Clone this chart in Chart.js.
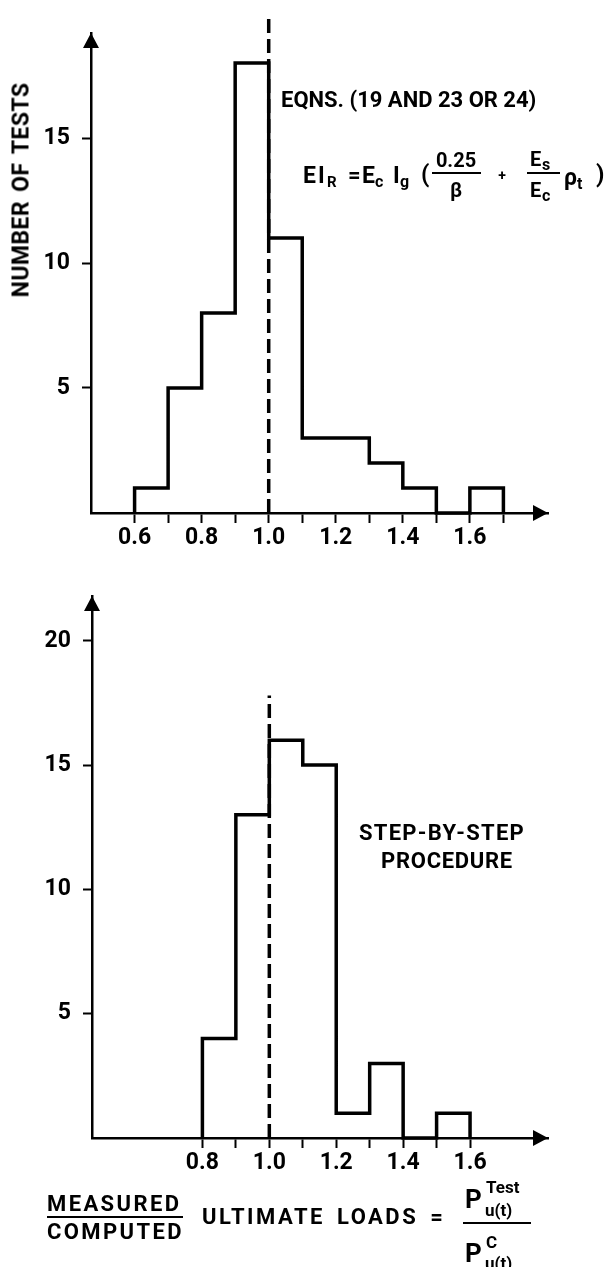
<!DOCTYPE html>
<html>
<head>
<meta charset="utf-8">
<script src="https://cdn.jsdelivr.net/npm/chart.js@4.4.0/dist/chart.umd.min.js"></script>
<style>
  body { margin:0; background:#fff; width:610px; height:1267px; position:relative; overflow:hidden;
         font-family:Roboto,"DejaVu Sans",sans-serif; font-weight:bold; color:#000; }
  canvas { position:absolute; left:0; }
  .t { position:absolute; white-space:nowrap; line-height:1; }
  .bar { position:absolute; height:2px; background:#000; }
</style>
</head>
<body>
<canvas id="topChart" width="610" height="560" style="top:0"></canvas>
<canvas id="botChart" width="610" height="707" style="top:560px"></canvas>
<div id="labels"></div>
<script>
// histogram bins (ratio measured / computed) and number of tests per bin
const edgesTop  = [0.6, 0.7, 0.8, 0.9, 1.0, 1.1, 1.2, 1.3, 1.4, 1.5, 1.6, 1.7];
const countsTop = [1, 5, 8, 18, 11, 3, 3, 2, 1, 0, 1];
const edgesBot  = [0.8, 0.9, 1.0, 1.1, 1.2, 1.3, 1.4, 1.5, 1.6];
const countsBot = [4, 13, 16, 15, 1, 3, 0, 1];

const xTicksTop  = [0.6, 0.7, 0.8, 0.9, 1.0, 1.1, 1.2, 1.3, 1.4, 1.5, 1.6, 1.7];
const xLabelsTop = [0.6, 0.8, 1.0, 1.2, 1.4, 1.6];
const xTicksBot  = [0.8, 0.9, 1.0, 1.1, 1.2, 1.3, 1.4, 1.5, 1.6];
const xLabelsBot = [0.8, 1.0, 1.2, 1.4, 1.6];
const yTicksTop  = [5, 10, 15];
const yTicksBot  = [5, 10, 15, 20];

const refX = 1.0;          // dashed line at ratio 1.0
const refTopTop = 19.9;    // how high the dashed line goes
const refTopBot = 17.8;

const FONT = 'Roboto, "DejaVu Sans", sans-serif';

function stepPoints(edges, counts) {
  const pts = [{x: edges[0], y: 0}];
  counts.forEach((c, i) => pts.push({x: edges[i], y: c}));
  pts.push({x: edges[edges.length - 1], y: 0});
  return pts;
}

// arrow heads on the ends of both axes
const arrows = {
  id: 'arrows',
  afterDraw(chart) {
    const {ctx, chartArea: a} = chart;
    ctx.save();
    ctx.fillStyle = '#000';
    ctx.beginPath();
    ctx.moveTo(a.left, a.top);
    ctx.lineTo(a.left - 8, a.top + 15);
    ctx.lineTo(a.left + 8, a.top + 15);
    ctx.closePath();
    ctx.fill();
    ctx.beginPath();
    ctx.moveTo(a.right, a.bottom);
    ctx.lineTo(a.right - 15, a.bottom - 8);
    ctx.lineTo(a.right - 15, a.bottom + 8);
    ctx.closePath();
    ctx.fill();
    ctx.restore();
  }
};

function makeChart(id, edges, counts, xTicks, xLabels, yTicks, yMax, refTop, opt) {
  return new Chart(document.getElementById(id), {
    type: 'line',
    data: {
      datasets: [
        { data: stepPoints(edges, counts), stepped: true, borderColor: '#000', borderWidth: 3.5,
          pointRadius: 0, fill: false, clip: false },
        { data: [{x: refX, y: 0}, {x: refX, y: refTop}], borderColor: '#000', borderWidth: 3.5,
          borderDash: [14, 6], pointRadius: 0, fill: false, clip: false }
      ]
    },
    options: {
      responsive: false, animation: false, events: [],
      layout: { padding: { left: 0, right: 62, top: opt.top, bottom: 0 } },
      plugins: { legend: { display: false }, tooltip: { enabled: false } },
      scales: {
        x: {
          type: 'linear', min: 0.47, max: 1.833,
          afterFit: s => { s.height = opt.xh; },
          afterBuildTicks: s => { s.ticks = xTicks.map(v => ({ value: v })); },
          ticks: { callback: v => xLabels.includes(v) ? v.toFixed(1) : '', autoSkip: false, maxRotation: 0,
                   color: '#000', padding: 1, font: { family: FONT, size: 23, weight: 'bold' } },
          grid: { drawOnChartArea: false, tickLength: 10, tickWidth: 2, tickColor: '#000' },
          border: { color: '#000', width: 2.5 }
        },
        y: {
          min: 0, max: yMax,
          afterFit: s => { s.width = opt.yw; },
          afterBuildTicks: s => { s.ticks = yTicks.map(v => ({ value: v })); },
          ticks: { color: '#000', padding: 12, font: { family: FONT, size: 23, weight: 'bold' } },
          grid: { drawOnChartArea: false, tickLength: 9, tickWidth: 2, tickColor: '#000' },
          border: { color: '#000', width: 2.5 }
        }
      }
    },
    plugins: [arrows]
  });
}

makeChart('topChart', edgesTop, countsTop, xTicksTop, xLabelsTop, yTicksTop, 19.2, refTopTop,
          { top: 33, xh: 47, yw: 91 });
makeChart('botChart', edgesBot, countsBot, xTicksBot, xLabelsBot, yTicksBot, 21.8, refTopBot,
          { top: 36, xh: 129, yw: 92 });

// text annotations
const box = document.getElementById('labels');
function txt(s, x, cy, size, align, extra) {
  const d = document.createElement('div');
  d.className = 't';
  d.textContent = s;
  d.style.fontSize = size + 'px';
  d.style.top = (cy - 0.49 * size) + 'px';
  d.style.left = x + 'px';
  if (align === 'center') d.style.transform = 'translateX(-50%)';
  if (extra) Object.assign(d.style, extra);
  box.appendChild(d);
  return d;
}
function bar(x1, x2, y) {
  const d = document.createElement('div');
  d.className = 'bar';
  d.style.left = x1 + 'px'; d.style.width = (x2 - x1) + 'px'; d.style.top = (y - 1) + 'px';
  box.appendChild(d);
}

// y axis title (top chart)
const yt = document.createElement('div');
yt.className = 't';
yt.textContent = 'NUMBER OF TESTS';
Object.assign(yt.style, { fontSize: '23px', left: '21px', top: '190px',
  transform: 'translate(-50%,-50%) rotate(-90deg)', letterSpacing: '0.4px', wordSpacing: '3px' });
box.appendChild(yt);

txt('EQNS. (19 AND 23 OR 24)', 281, 100, 22, 'left');

// EI_R = E_c I_g ( 0.25/β + E_s/E_c ρ_t )
txt('E', 303, 175, 23, 'left');
txt('I', 318, 175, 23, 'left');
txt('R', 327, 182, 15, 'left');
txt('=', 348, 175, 22, 'left');
txt('E', 362, 175, 23, 'left');
txt('c', 375, 182, 16, 'left');
txt('I', 393, 175, 23, 'left');
txt('g', 400, 182, 16, 'left');
txt('(', 421, 174, 24, 'left');
txt('0.25', 456, 160, 20, 'center');
bar(432, 481, 173);
txt('β', 456, 190, 20, 'center');
txt('+', 502, 175, 14, 'center');
txt('E', 530, 159, 20, 'left');
txt('s', 542, 165, 16, 'left');
bar(527, 560, 173);
txt('E', 530, 190, 20, 'left');
txt('c', 542, 196, 16, 'left');
txt('ρ', 564, 177, 23, 'left');
txt('t', 577, 184, 16, 'left');
txt(')', 596, 174, 24, 'left');

// bottom chart annotation
txt('STEP-BY-STEP', 442, 833, 22, 'center', { letterSpacing: '1.3px' });
txt('PROCEDURE', 447, 861, 22, 'center', { letterSpacing: '0.7px' });

// bottom x axis title
txt('MEASURED', 47, 1204, 22, 'left', { letterSpacing: '2.4px' });
bar(47, 183, 1217);
txt('COMPUTED', 47, 1232, 22, 'left', { letterSpacing: '2.4px' });
txt('ULTIMATE LOADS =', 202, 1217, 22, 'left', { letterSpacing: '2.5px', wordSpacing: '4px' });
txt('P', 465, 1199, 26, 'left');
txt('Test', 486, 1187, 17, 'left');
txt('u(t)', 485, 1210, 17, 'left');
bar(463, 531, 1223);
txt('P', 465, 1253, 26, 'left');
txt('C', 486, 1242, 17, 'left');
txt('u(t)', 485, 1263, 17, 'left');
</script>
</body>
</html>
